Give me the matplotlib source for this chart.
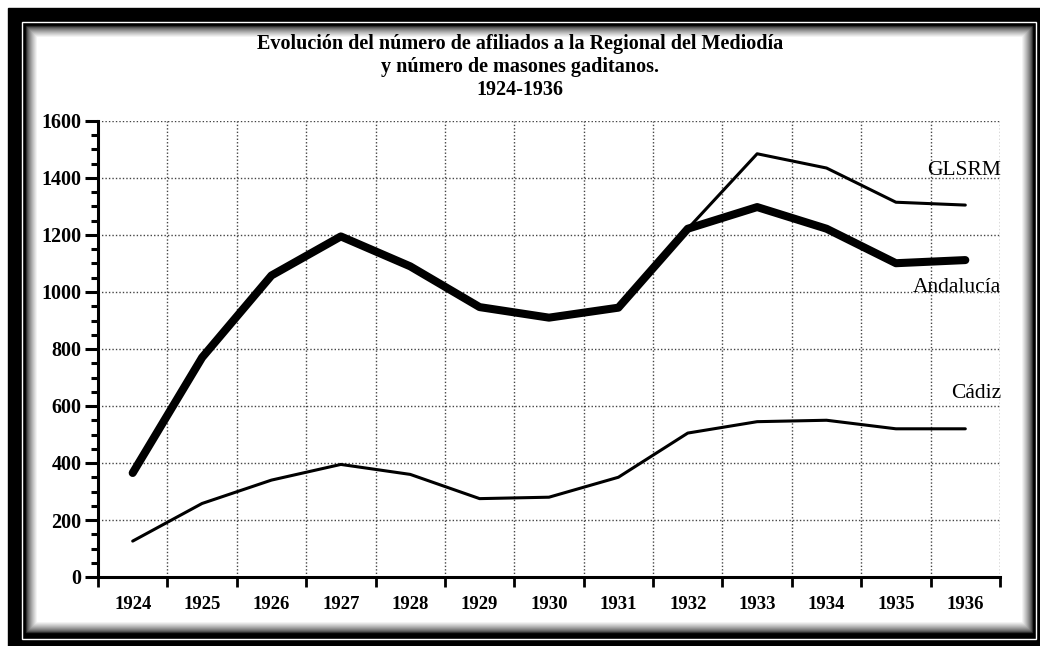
"""
Evolución del número de afiliados a la Regional del Mediodía
y número de masones gaditanos, 1924-1936
"""
import numpy as np
import matplotlib
matplotlib.use("Agg")
import matplotlib.pyplot as plt
from matplotlib.patches import Rectangle
from matplotlib.ticker import MultipleLocator

years = ["1924", "1925", "1926", "1927", "1928", "1929", "1930",
         "1931", "1932", "1933", "1934", "1935", "1936"]
andalucia = [365, 770, 1058, 1195, 1090, 947, 910, 945, 1222, 1298, 1222, 1101, 1112]
glsrm = [np.nan] * 8 + [1222, 1485, 1435, 1315, 1305]
cadiz = [126, 258, 340, 395, 360, 275, 280, 350, 505, 545, 550, 520, 520]
yticks = [0, 200, 400, 600, 800, 1000, 1200, 1400, 1600]

W, H = 1040, 646
plt.rcParams['font.family'] = ['Liberation Serif', 'DejaVu Serif']

fig = plt.figure(figsize=(W / 100, H / 100), dpi=100)
fig.patch.set_facecolor('white')


def frac(x0, y0, x1, y1):
    # pixel box (top-left origin) -> figure fraction rect
    return (x0 / W, 1 - y1 / H), (x1 - x0) / W, (y1 - y0) / H


# black frame with thin white line and soft inner shadow
xy, w, h = frac(8, 8, 1040, 646)
fig.add_artist(Rectangle(xy, w, h, transform=fig.transFigure, color='black', zorder=0))
xy, w, h = frac(21.5, 21.5, 1036, 638.5)
fig.add_artist(Rectangle(xy, w, h, transform=fig.transFigure, facecolor='none',
                         edgecolor='white', lw=1.0, zorder=0.5))
for i in range(12):
    g = 0.15 + 0.85 * (i / 11) ** 0.7
    xy, w, h = frac(26 + i, 26 + i, 1032 - i, 632 - i)
    fig.add_artist(Rectangle(xy, w, h, transform=fig.transFigure,
                             color=(g, g, g), zorder=0.6 + i * 0.01))

ax = fig.add_axes([98 / W, 1 - 577 / H, (1000 - 98) / W, (577 - 121) / H])
ax.set_facecolor('none')
ax.set_zorder(2)

x = np.arange(len(years))
ax.plot(x, cadiz, color='black', lw=2.2, solid_joinstyle='round', solid_capstyle='round')
ax.plot(x, glsrm, color='black', lw=2.2, solid_joinstyle='round', solid_capstyle='round')
ax.plot(x, andalucia, color='black', lw=5.8, solid_joinstyle='round', solid_capstyle='round')

ax.set_xlim(-0.5, len(years) - 0.5)
ax.set_ylim(0, 1600)

# year labels centred between tick marks
ax.set_xticks(np.arange(len(years) + 1) - 0.5)
ax.set_xticklabels([])
ax.set_xticks(x, minor=True)
ax.set_xticklabels(years, minor=True, fontsize=13.5, fontweight='bold')
ax.tick_params(axis='x', which='major', direction='out', length=7.5, width=2)
ax.tick_params(axis='x', which='minor', length=0, pad=14)

ax.set_yticks(yticks)
ax.set_yticklabels([str(v) for v in yticks], fontsize=14.5, fontweight='bold')
ax.yaxis.set_minor_locator(MultipleLocator(50))
ax.tick_params(axis='y', which='major', direction='out', length=9.5, width=2.2, pad=2.5)
ax.tick_params(axis='y', which='minor', direction='out', length=5, width=2.2)

for s in ['top', 'right']:
    ax.spines[s].set_visible(False)
ax.spines['left'].set_linewidth(2.2)
ax.spines['bottom'].set_linewidth(2.2)

# dotted grid
for v in yticks[1:]:
    ax.axhline(v, color='#444444', lw=1, linestyle=(0, (1, 1.5)), zorder=0)
for v in np.arange(1, len(years) + 1) - 0.5:
    ax.axvline(v, color='#444444', lw=1, linestyle=(0, (1, 1.5)), zorder=0)

# series names
ax.text(12.52, 1425, "GLSRM", ha='right', va='center', fontsize=15.5)
ax.text(12.52, 1015, "Andalucía", ha='right', va='center', fontsize=15.5)
ax.text(12.52, 644, "Cádiz", ha='right', va='center', fontsize=15.5)

fig.text(0.5, 1 - 44 / H, "Evolución del número de afiliados a la Regional del Mediodía",
         ha='center', va='center', fontsize=14.5, fontweight='bold')
fig.text(0.5, 1 - 67 / H, "y número de masones gaditanos.",
         ha='center', va='center', fontsize=14.5, fontweight='bold')
fig.text(0.5, 1 - 90 / H, "1924-1936",
         ha='center', va='center', fontsize=14.5, fontweight='bold')

fig.savefig("out.png", dpi=100)
